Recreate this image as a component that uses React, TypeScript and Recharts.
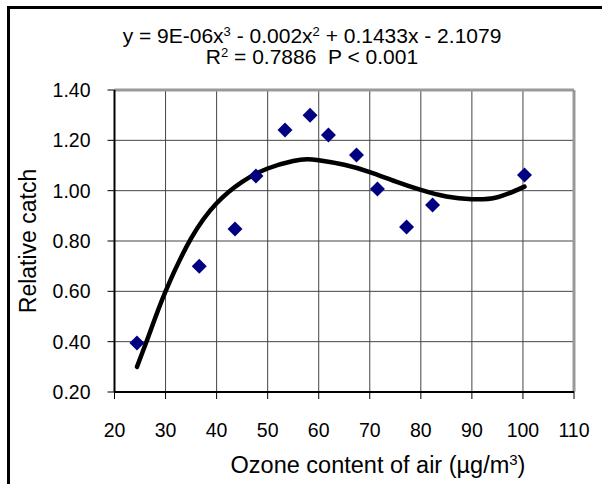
import React from "react"
import {
  ComposedChart,
  Scatter,
  Line,
  XAxis,
  YAxis,
  CartesianGrid,
  ReferenceLine,
} from "recharts"

// observed relative catch vs ozone content
const ozone = [24.4, 36.6, 43.6, 47.7, 53.4, 58.3, 61.9, 67.4, 71.5, 77.2, 82.3, 100.3]
const relCatch = [0.395, 0.7, 0.848, 1.058, 1.241, 1.3, 1.221, 1.142, 1.007, 0.856, 0.943, 1.062]

// fitted polynomial curve
const fitX = [24.4, 27, 30, 35, 40, 45, 50, 55, 57.7, 60, 65, 70, 75, 80, 85, 90, 95, 100.3]
const fitY = [0.3, 0.44, 0.6, 0.81, 0.95, 1.035, 1.088, 1.118, 1.125, 1.121, 1.103, 1.074, 1.037, 1.003, 0.977, 0.966, 0.974, 1.016]

const xTicks = [20, 30, 40, 50, 60, 70, 80, 90, 100, 110]
const yTicks = [0.2, 0.4, 0.6, 0.8, 1.0, 1.2, 1.4]

const points = ozone.map((x, i) => ({ x, y: relCatch[i] }))
const fit = fitX.map((x, i) => ({ x, y: fitY[i] }))

const FONT = "'Liberation Sans', Arial, sans-serif"

const Diamond = (props: any) => {
  const { cx, cy } = props
  const r = 7.5
  return (
    <polygon
      points={`${cx},${cy - r} ${cx + r},${cy} ${cx},${cy + r} ${cx - r},${cy}`}
      fill="#000080"
    />
  )
}

const supStyle = { fontSize: 13, verticalAlign: "7px", lineHeight: 0 }

export default function App() {
  return (
    <div
      style={{
        position: "absolute",
        left: 0,
        top: 0,
        width: 602,
        height: 484,
        overflow: "hidden",
        background: "#fff",
        fontFamily: FONT,
      }}
    >
      <div
        style={{
          position: "absolute",
          left: 7,
          top: 6,
          width: 700,
          height: 600,
          borderLeft: "3px solid #000",
          borderTop: "3px solid #000",
        }}
      />
      <div
        style={{
          position: "absolute",
          left: 112,
          width: 400,
          top: 25,
          textAlign: "center",
          fontSize: 21,
          lineHeight: "21px",
          color: "#000",
        }}
      >
        <div>
          y = 9E-06x<sup style={supStyle}>3</sup> - 0.002x<sup style={supStyle}>2</sup> + 0.1433x - 2.1079
        </div>
        <div>
          R<sup style={supStyle}>2</sup> = 0.7886&nbsp; P &lt; 0.001
        </div>
      </div>
      <div
        style={{
          position: "absolute",
          left: 178,
          width: 400,
          top: 452,
          textAlign: "center",
          fontSize: 23.5,
          lineHeight: "26px",
          color: "#000",
        }}
      >
        Ozone content of air (µg/m<sup style={{ fontSize: 15, verticalAlign: "8px", lineHeight: 0 }}>3</sup>)
      </div>
      <div
        style={{
          position: "absolute",
          left: 28,
          top: 241,
          transform: "translate(-50%, -50%) rotate(-90deg)",
          fontSize: 23,
          whiteSpace: "nowrap",
          color: "#000",
        }}
      >
        Relative catch
      </div>
      <div style={{ position: "absolute", left: 0, top: 0 }}>
        <ComposedChart
          width={602}
          height={484}
          margin={{ top: 90, right: 28, bottom: 32, left: 0 }}
        >
          <CartesianGrid stroke="#444" strokeWidth={1} />
          <XAxis
            type="number"
            dataKey="x"
            domain={[20, 110]}
            ticks={xTicks}
            interval={0}
            height={60}
            tickSize={7}
            tickMargin={24}
            axisLine={{ stroke: "#000", strokeWidth: 2 }}
            tickLine={{ stroke: "#000", strokeWidth: 1 }}
            tick={{ fill: "#000", fontSize: 19.5, fontFamily: FONT }}
          />
          <YAxis
            type="number"
            dataKey="y"
            domain={[0.2, 1.4]}
            ticks={yTicks}
            interval={0}
            width={114.5}
            tickSize={7}
            tickMargin={17}
            tickFormatter={(v: number) => v.toFixed(2)}
            axisLine={{ stroke: "#000", strokeWidth: 2 }}
            tickLine={{ stroke: "#000", strokeWidth: 1 }}
            tick={{ fill: "#000", fontSize: 19.5, fontFamily: FONT }}
          />
          <ReferenceLine y={1.4} stroke="#999" strokeWidth={3} />
          <ReferenceLine x={110} stroke="#999" strokeWidth={3} />
          <Scatter data={points} dataKey="y" shape={<Diamond />} isAnimationActive={false} />
          <Line
            data={fit}
            dataKey="y"
            type="natural"
            stroke="#000"
            strokeWidth={4.5}
            strokeLinecap="round"
            dot={false}
            activeDot={false}
            isAnimationActive={false}
          />
        </ComposedChart>
      </div>
    </div>
  )
}
